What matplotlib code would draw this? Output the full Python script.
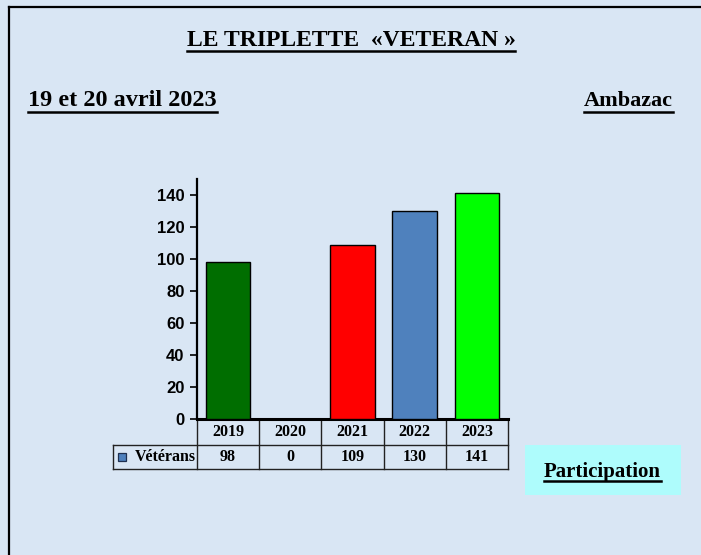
import matplotlib
matplotlib.use("Agg")
import matplotlib.pyplot as plt
from matplotlib.patches import Rectangle
from matplotlib.lines import Line2D
from matplotlib.transforms import blended_transform_factory

years = ["2019", "2020", "2021", "2022", "2023"]
values = [98, 0, 109, 130, 141]
bar_colors = ["#006e00", "#ffffff", "#ff0000", "#4f81bd", "#00ff00"]
series_name = "Vétérans"
title = "LE TRIPLETTE  «VETERAN »"
date_text = "19 et 20 avril 2023"
place_text = "Ambazac"
box_text = "Participation"
yticks = [0, 20, 40, 60, 80, 100, 120, 140]

W, H = 701, 555
BG = "#d9e6f4"
fig = plt.figure(figsize=(W / 100, H / 100), dpi=100, facecolor=BG)

def fx(px):
    return px / W

def fy(py):
    return 1 - py / H

# page border (left and top)
fig.add_artist(Line2D([fx(9), fx(9)], [fy(7), 0], transform=fig.transFigure, color="black", lw=1.6))
fig.add_artist(Line2D([fx(9), 1], [fy(7), fy(7)], transform=fig.transFigure, color="black", lw=1.6))

serif = "Liberation Serif"

def underlined(x, y, s, size, ha, off=5):
    t = fig.text(fx(x), fy(y), s, fontsize=size, fontweight="bold", family=serif,
                 ha=ha, va="baseline", color="black")
    fig.canvas.draw()
    bb = t.get_window_extent()
    yy = fy(y + off)
    fig.add_artist(Line2D([bb.x0 / W, bb.x1 / W], [yy, yy], transform=fig.transFigure,
                          color="black", lw=1.8))
    return t

underlined(351, 46, title, 17, "center", 5)
underlined(28, 106, date_text, 17.5, "left", 6)
underlined(673, 106, place_text, 16, "right", 6)

# axes
ax_l, ax_r, ax_b, ax_t = 197, 508, 419, 179
ax = fig.add_axes([fx(ax_l), fy(ax_b), fx(ax_r - ax_l), (ax_b - ax_t) / H])
ax.set_facecolor("none")
x = list(range(len(years)))
ax.bar(x, values, width=0.72, color=bar_colors, edgecolor="black", linewidth=1.0, zorder=3)
ax.set_xlim(-0.5, len(years) - 0.5)
ax.set_ylim(0, 150)
ax.set_yticks(yticks)
ax.set_yticklabels([str(v) for v in yticks], fontsize=12, fontweight="bold",
                   family="Liberation Sans")
ax.tick_params(axis="y", direction="out", length=5, width=1.2, pad=4)
ax.set_xticks([])
for s in ["top", "right"]:
    ax.spines[s].set_visible(False)
ax.spines["left"].set_linewidth(1.6)
ax.spines["bottom"].set_linewidth(2.2)

# data table
tr = blended_transform_factory(ax.transData, ax.transAxes)
axh = ax_b - ax_t
r1 = -26 / axh
r2 = -50 / axh
lab_left = -0.5 - 84 / ((ax_r - ax_l) / len(years))
lc = "#222222"
lw = 1.0
def hline(x0, x1, y):
    ax.add_line(Line2D([x0, x1], [y, y], transform=tr, color=lc, lw=lw, clip_on=False))
def vline(xx, y0, y1):
    ax.add_line(Line2D([xx, xx], [y0, y1], transform=tr, color=lc, lw=lw, clip_on=False))

hline(lab_left, len(years) - 0.5, r1)
hline(lab_left, len(years) - 0.5, r2)
for i in range(len(years) + 1):
    vline(i - 0.5, 0, r2)
vline(lab_left, r1, r2)

for i, (yr, v) in enumerate(zip(years, values)):
    ax.text(i, (0 + r1) / 2, yr, transform=tr, ha="center", va="center",
            fontsize=11.5, fontweight="bold", family=serif)
    ax.text(i, (r1 + r2) / 2, str(v), transform=tr, ha="center", va="center",
            fontsize=11.5, fontweight="bold", family=serif)

# row label with legend key
ax.add_patch(Rectangle((lab_left + 0.08, (r1 + r2) / 2 - 4 / axh), 0.13, 8 / axh,
                       transform=tr, facecolor="#4f81bd", edgecolor="#1f3050", lw=0.9,
                       clip_on=False))
ax.text(-0.52, (r1 + r2) / 2, series_name, transform=tr,
        ha="right", va="center", fontsize=11.5, fontweight="bold", family=serif)

# Participation box
fig.add_artist(Rectangle((fx(525), fy(495)), fx(681 - 525), (495 - 445) / H,
                         transform=fig.transFigure, facecolor="#aefcfc", edgecolor="none"))
underlined(602, 477, box_text, 15, "center", 4)

fig.savefig("out.png", dpi=100, facecolor=BG)
